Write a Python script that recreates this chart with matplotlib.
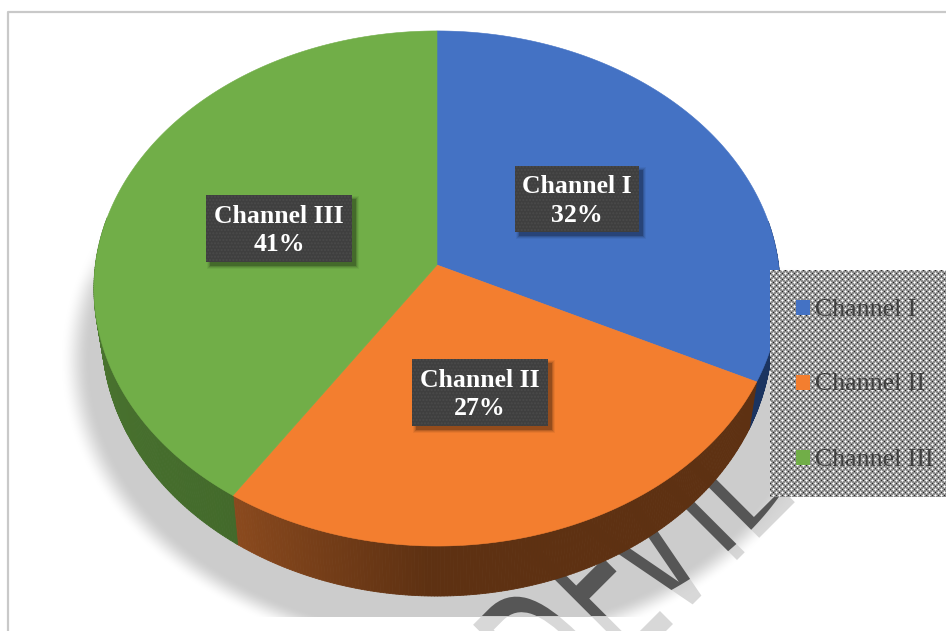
import numpy as np
import matplotlib
matplotlib.use('Agg')
import matplotlib.pyplot as plt
import matplotlib.patheffects as path_effects
from matplotlib.collections import PolyCollection
from matplotlib.colors import to_rgb
from matplotlib.patches import Polygon, Rectangle
from matplotlib.transforms import Affine2D

categories = ['Channel I', 'Channel II', 'Channel III']
shares = [32, 27, 41]

top_colors = ['#4472C4', '#F37E2F', '#71AE48']
# colour of the rim at the start and end of each slice, plus where the fade stops
rim_start = ['#1B3460', '#5E3112', '#436A2B']
rim_end = ['#1B3460', '#8B4A1E', '#588838']
rim_flat_until = [360, 180, 0]

label_centers = [(577, 199), (480, 392.5), (279, 228.5)]
label_sizes = [(124, 66), (136, 67), (146, 67)]
legend_y = [308, 383, 458]

watermark_letters = ['D', 'E', 'V', 'I', 'L']
watermark_offsets = [-151, -62, 0, 62, 108]
watermark_shift = [(20, 10), (0, 0), (0, 0), (0, 0), (0, 0)]

W, H = 946, 631
CX, CY = 437, 265
A, B, K = 341.6, 255.4, 0.0912


class StretchY(path_effects.AbstractPathEffect):
    def __init__(self, factor):
        super().__init__()
        self.factor = factor

    def draw_path(self, renderer, gc, tpath, affine, rgbFace=None):
        renderer.draw_path(gc, tpath, Affine2D().scale(1, self.factor) + affine, rgbFace)


def project(theta_deg):
    # perspective view of the top circle, angle clockwise from 12 o'clock,
    # with a small yaw that grows towards the front of the pie
    theta_deg = theta_deg + 1.2 * np.sin(np.radians(theta_deg) / 2) ** 2
    t = np.radians(theta_deg)
    u, v = np.sin(t), np.cos(t)
    w = 1 + K * v
    return CX + A * u / w, CY - B * v / w


def lower_rim(x, y):
    return CX + (x - CX) * 0.977, CY + (y - CY) * 1.02 + 44.4


def lerp_color(c1, c2, f):
    a, b = np.array(to_rgb(c1)), np.array(to_rgb(c2))
    return tuple(a + (b - a) * f)


def draw_watermark(color, zorder, clip=None):
    for letter, s, shift in zip(watermark_letters, watermark_offsets, watermark_shift):
        px, py = 697 + s * 0.7071 + shift[0], 600 - s * 0.7071 + shift[1]
        txt = ax.text(px, py, letter, fontsize=80, rotation=45, rotation_mode='anchor', ha='center',
                      va='baseline', color=color, zorder=zorder, clip_on=True, path_effects=[StretchY(2.0)])
        if clip is not None:
            txt.set_clip_path(clip)


fig = plt.figure(figsize=(W / 100, H / 100), dpi=100)
ax = fig.add_axes([0, 0, 1, 1])
ax.axis('off')

# page frame
ax.plot([7.5, 7.5, W], [H, 11.5, 11.5], color='#c9c9c9', lw=1.6, zorder=0.2)

# watermark, light everywhere and dark where the shadow falls
draw_watermark('#d8d8d8', 0.5)

# soft shadow under the pie, thinning out towards the upper right
yy, xx = np.mgrid[0:H, 0:W]
r = np.sqrt(((xx - 450) / 375.0) ** 2 + ((yy - 360) / 285.0) ** 2)
fade = np.clip((1.04 - r) / 0.08, 0, 1)
fade = fade * fade * (3 - 2 * fade)
fade = fade * np.clip((yy - 215 - np.maximum(xx - 437, 0) * 0.15) / 70.0, 0, 1)
fade[yy > 616] = 0
shadow = np.zeros((H, W, 4))
shadow[..., :3] = 0.8
shadow[..., 3] = fade
ax.imshow(shadow, extent=(0, W, H, 0), zorder=1, interpolation='nearest')

shadow_t = np.linspace(0, 2 * np.pi, 361)
shadow_x = 450 + 375 * np.cos(shadow_t)
shadow_y = np.minimum(360 + 285 * np.sin(shadow_t), 616)
shadow_clip = Polygon(np.column_stack([shadow_x, shadow_y]), transform=ax.transData)
draw_watermark('#565656', 1.5, shadow_clip)

# rim first, then the top faces
edges = np.cumsum([0] + shares) * 3.6
for i in range(len(shares)):
    start, end = edges[i], edges[i + 1]
    angles = np.arange(start, end + 0.5, 0.5)
    quads = []
    colors = []
    for a0, a1 in zip(angles[:-1], angles[1:]):
        if a1 < 80 or a0 > 280:
            continue
        x0, y0 = project(a0)
        x1, y1 = project(a1)
        x2, y2 = lower_rim(x1, y1)
        x3, y3 = lower_rim(x0, y0)
        quads.append([(x0, y0), (x1, y1), (x2, y2), (x3, y3)])
        f0 = max(start, rim_flat_until[i])
        f = np.clip((a0 - f0) / max(end - f0, 1), 0, 1)
        colors.append(lerp_color(rim_start[i], rim_end[i], f))
    ax.add_collection(PolyCollection(quads, facecolors=colors, edgecolors=colors, linewidths=0.6, zorder=2))

for i in range(len(shares)):
    angles = np.linspace(edges[i], edges[i + 1], 200)
    x, y = project(angles)
    pts = np.column_stack([np.r_[CX, x], np.r_[CY, y]])
    ax.add_patch(Polygon(pts, closed=True, facecolor=top_colors[i], edgecolor=top_colors[i], lw=0.4, zorder=3))

# data labels
for name, share, center, size in zip(categories, shares, label_centers, label_sizes):
    x0, y0 = center[0] - size[0] / 2, center[1] - size[1] / 2
    for grow, alpha in [(6, 0.05), (4, 0.08), (2, 0.12), (0, 0.2)]:
        ax.add_patch(Rectangle((x0 + 4 - grow / 2, y0 + 4 - grow / 2), size[0] + grow, size[1] + grow,
                               facecolor='black', edgecolor='none', alpha=alpha, zorder=4))
    ax.add_patch(Rectangle((x0, y0), size[0], size[1], facecolor='#3f3f3f', edgecolor='#4a4a4a', hatch='.....',
                           lw=0, zorder=4.5))
    ax.text(center[0], center[1] + 2, '%s\n%d%%' % (name, share), color='white', ha='center', va='center',
            family='Liberation Serif', fontweight='bold', fontsize=18.5, linespacing=1.32, zorder=5)

# legend box with its dotted fill
tile = np.full((6, 6), 0.55)
tile[0, 0] = tile[3, 3] = 1.0
tile[0, 1] = tile[1, 0] = tile[3, 4] = tile[4, 3] = tile[0, 5] = tile[5, 0] = tile[3, 2] = tile[2, 3] = 0.85
tile[0, 3] = tile[3, 0] = 0.15
box_w, box_h = W - 770, 497 - 270
pattern = np.tile(tile, (box_h // 6 + 1, box_w // 6 + 1))[:box_h, :box_w]
ax.imshow(pattern, extent=(770, W, 497, 270), cmap='gray', vmin=0, vmax=1, zorder=6, interpolation='nearest')

for name, color, y in zip(categories, top_colors, legend_y):
    ax.add_patch(Rectangle((796, y - 8), 14, 15, facecolor=color, edgecolor='none', zorder=7))
    ax.text(815, y + 1.5, name, color='#404040', ha='left', va='center', family='Liberation Serif',
            fontsize=18.6, zorder=7)

ax.set_xlim(0, W)
ax.set_ylim(H, 0)
fig.savefig('out.png', dpi=100, facecolor='white')
